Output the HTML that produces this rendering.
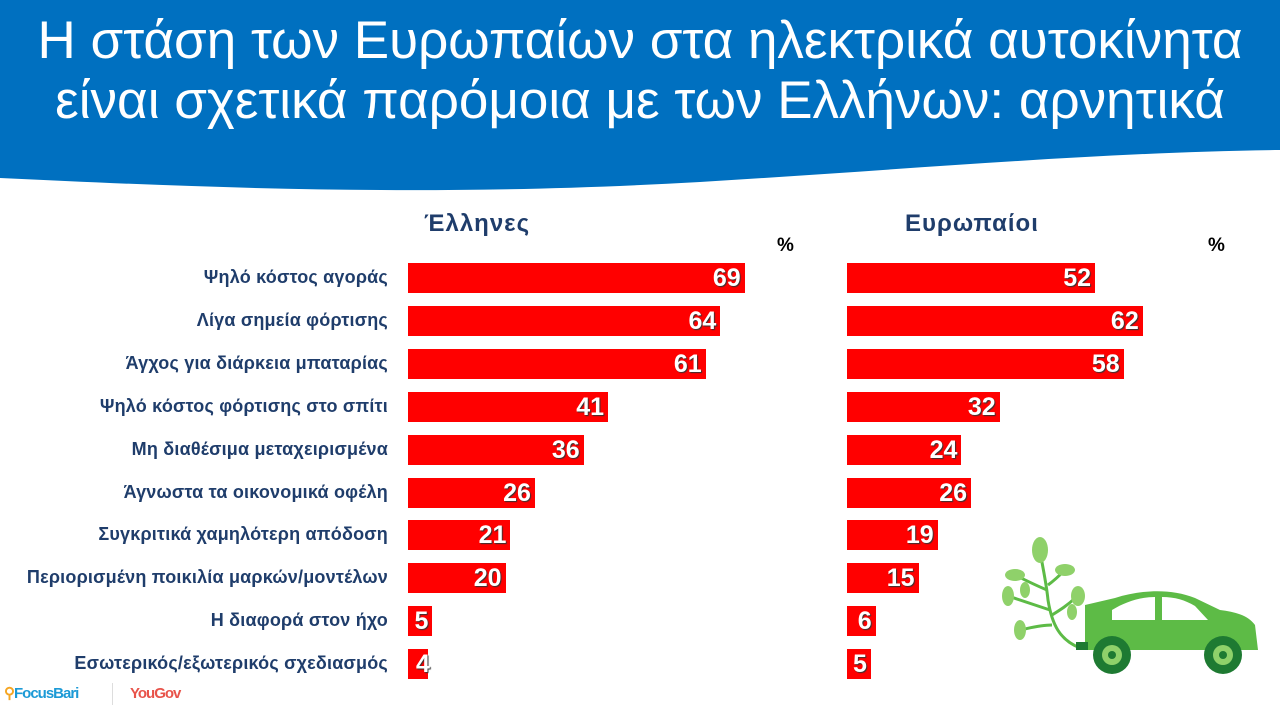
<!DOCTYPE html><html><head><meta charset="utf-8"><style>
body{margin:0;width:1280px;height:720px;overflow:hidden;background:#fff;font-family:"Liberation Sans",sans-serif;position:relative}
.t{position:absolute;left:0;width:1280px;text-align:center;color:#fff;font-size:53px;line-height:60px;top:11px;white-space:nowrap}
.h{position:absolute;font-weight:bold;color:#1f3d6b;font-size:24px;letter-spacing:1px}
.pc{position:absolute;font-weight:bold;font-size:19px;color:#000}
.c{position:absolute;right:892px;width:420px;text-align:right;font-weight:bold;color:#1f3d6b;font-size:18px;letter-spacing:0.2px;white-space:nowrap}
.b{position:absolute;height:30px;background:#ff0000;color:#fff;font-weight:bold;font-size:25px;line-height:30px;text-align:right;box-sizing:border-box;padding-right:4px;text-shadow:1px 1px 1px #333}
</style></head><body>
<svg width="1280" height="200" style="position:absolute;left:0;top:0"><path d="M0 0H1280V150C1100 152 900 170 700 182C450 196 250 190 0 178Z" fill="#0070c0"/></svg>
<div class="t">Η στάση των Ευρωπαίων στα ηλεκτρικά αυτοκίνητα<br>είναι σχετικά παρόμοια με των Ελλήνων: αρνητικά</div>
<div class="h" style="left:424px;top:210px">Έλληνες</div>
<div class="h" style="left:905px;top:210px">Ευρωπαίοι</div>
<div class="pc" style="left:777px;top:235px">%</div>
<div class="pc" style="left:1208px;top:235px">%</div>
<div id="r"></div>
<svg width="280" height="150" style="position:absolute;left:990px;top:530px" viewBox="0 0 280 150">
<g stroke="#5dbb46" stroke-width="3" fill="none"><path d="M90 118C70 110 62 95 58 70C56 50 52 35 50 20"/><path d="M57 60C45 55 35 50 25 45"/><path d="M58 55C65 50 70 45 75 40"/><path d="M60 80C45 75 30 70 18 66"/><path d="M62 85C70 80 78 75 85 68"/><path d="M62 95C50 95 40 98 30 100"/></g>
<g fill="#8fd16a"><ellipse cx="50" cy="20" rx="8" ry="13"/><ellipse cx="25" cy="45" rx="10" ry="6"/><ellipse cx="75" cy="40" rx="10" ry="6"/><ellipse cx="18" cy="66" rx="6" ry="10"/><ellipse cx="88" cy="66" rx="7" ry="10"/><ellipse cx="30" cy="100" rx="6" ry="10"/><ellipse cx="82" cy="82" rx="5" ry="8"/><ellipse cx="35" cy="60" rx="5" ry="8"/></g>
<path d="M95 75L95 120H268L265 95C258 85 245 82 230 80L205 68C180 58 150 60 125 68Z" fill="#5dbb46"/>
<path d="M122 80L122 90H165V67C150 67 135 72 122 80ZM172 67V90H218L205 76C195 70 185 67 172 67Z" fill="#fff"/>
<circle cx="122" cy="125" r="19" fill="#1e7a32"/><circle cx="122" cy="125" r="10" fill="#8fd16a"/><circle cx="122" cy="125" r="4" fill="#1e7a32"/>
<circle cx="233" cy="125" r="19" fill="#1e7a32"/><circle cx="233" cy="125" r="10" fill="#8fd16a"/><circle cx="233" cy="125" r="4" fill="#1e7a32"/>
<rect x="86" y="112" width="12" height="8" fill="#1e7a32"/>
</svg>
<div style="position:absolute;left:4px;top:684px;font-weight:bold;font-size:15px;color:#1c9ad6;letter-spacing:-1px"><span style="color:#f5a623">⚲</span>FocusBari</div>
<div style="position:absolute;left:112px;top:683px;width:1px;height:22px;background:#ddd"></div>
<div style="position:absolute;left:130px;top:685px;font-weight:bold;font-size:15px;color:#e8534a;letter-spacing:-1px">YouGov</div>
<script>
var d=[["Ψηλό κόστος αγοράς",69,52],["Λίγα σημεία φόρτισης",64,62],["Άγχος για διάρκεια μπαταρίας",61,58],["Ψηλό κόστος φόρτισης στο σπίτι",41,32],["Μη διαθέσιμα μεταχειρισμένα",36,24],["Άγνωστα τα οικονομικά οφέλη",26,26],["Συγκριτικά χαμηλότερη απόδοση",21,19],["Περιορισμένη ποικιλία μαρκών/μοντέλων",20,15],["Η διαφορά στον ήχο",5,6],["Εσωτερικός/εξωτερικός σχεδιασμός",4,5]];
var h="";d.forEach(function(r,i){var y=263+i*42.9;
h+='<div class="c" style="top:'+(y+4)+'px">'+r[0]+'</div>';
h+='<div class="b" style="left:408px;top:'+y+'px;width:'+(r[1]*4.88)+'px;'+(r[1]<5?'padding-right:0;overflow:visible;text-align:left;padding-left:8px':'')+'">'+r[1]+'</div>';
h+='<div class="b" style="left:847px;top:'+y+'px;width:'+(r[2]*4.77)+'px">'+r[2]+'</div>';});
document.getElementById("r").innerHTML=h;
</script>
</body></html>
